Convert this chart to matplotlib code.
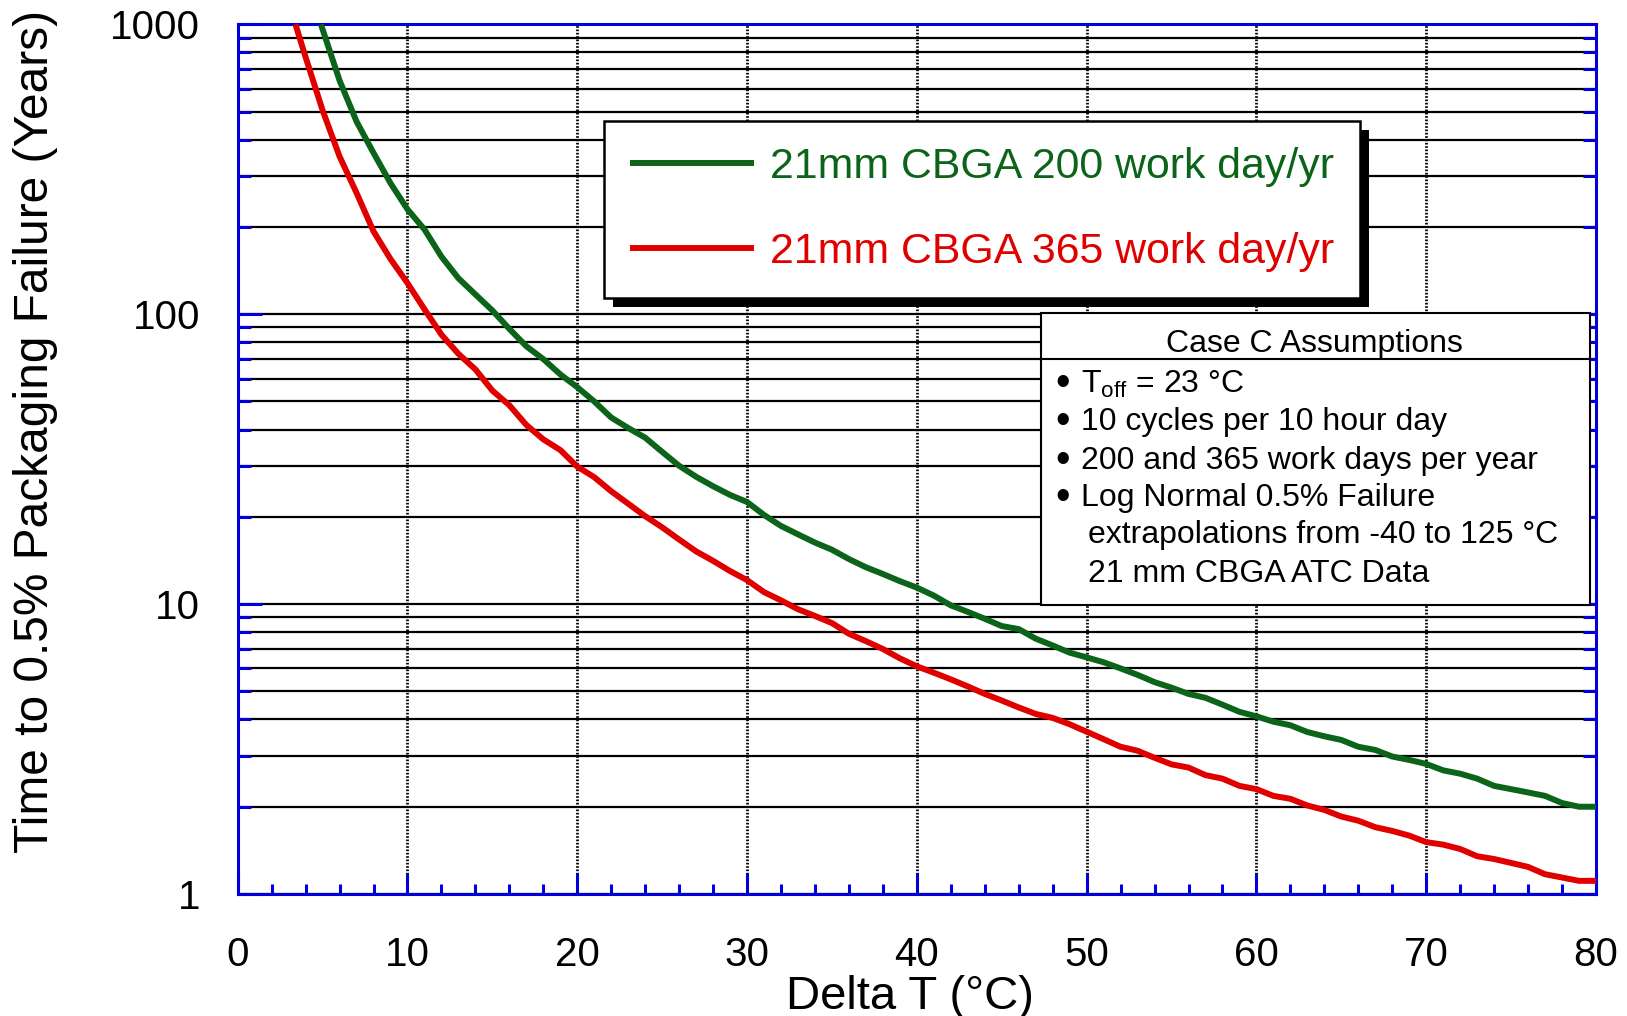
import matplotlib
matplotlib.use('Agg')
import matplotlib.pyplot as plt
from matplotlib.patches import Rectangle
from matplotlib.lines import Line2D
from matplotlib.ticker import FixedLocator, FixedFormatter, NullFormatter, LogLocator

plt.rcParams['font.family'] = ['Liberation Sans', 'DejaVu Sans']
plt.rcParams['mathtext.fontset'] = 'custom'
plt.rcParams['mathtext.rm'] = 'Liberation Sans'
plt.rcParams['mathtext.it'] = 'Liberation Sans:italic'

# ---------------- data ----------------
delta_t_200 = [4.9, 6, 7, 8, 9, 10, 11, 12, 13, 14, 15, 16, 17, 18, 19, 20,
               21, 22, 23, 24, 25, 26, 27, 28, 29, 30, 31, 32, 33, 34, 35,
               36, 37, 38, 39, 40, 41, 42, 43, 44, 45, 46, 47, 48, 49, 50,
               51, 52, 53, 54, 55, 56, 57, 58, 59, 60, 61, 62, 63, 64, 65,
               66, 67, 68, 69, 70, 71, 72, 73, 74, 75, 76, 77, 78, 79, 80]
years_200 = [1000, 640, 462, 360, 283, 230, 196, 158, 133, 117, 103, 89, 77.5, 70, 62, 56,
             50, 44, 40.5, 37.5, 33.5, 30, 27.5, 25.5, 23.8, 22.5, 20.3, 18.6, 17.4, 16.3, 15.4,
             14.3, 13.4, 12.7, 12.0, 11.4, 10.7, 9.9, 9.4, 8.9, 8.4, 8.2, 7.6, 7.2, 6.8, 6.55,
             6.3, 6.0, 5.7, 5.38, 5.15, 4.9, 4.75, 4.5, 4.25, 4.1, 3.93, 3.82, 3.62, 3.5, 3.4,
             3.22, 3.14, 2.98, 2.9, 2.81, 2.67, 2.6, 2.5, 2.36, 2.3, 2.24, 2.18, 2.06, 2.0, 2.0]

delta_t_365 = [3.4, 4, 5, 6, 7, 8, 9, 10, 11, 12, 13, 14, 15, 16, 17, 18, 19, 20,
               21, 22, 23, 24, 25, 26, 27, 28, 29, 30, 31, 32, 33, 34, 35,
               36, 37, 38, 39, 40, 41, 42, 43, 44, 45, 46, 47, 48, 49, 50,
               51, 52, 53, 54, 55, 56, 57, 58, 59, 60, 61, 62, 63, 64, 65,
               66, 67, 68, 69, 70, 71, 72, 73, 74, 75, 76, 77, 78, 79, 80]
years_365 = [1000, 770, 505, 350, 262, 193, 155, 128, 104, 85, 73, 64.5, 54.5, 48.5, 41.5, 37, 34, 29.8,
             27.4, 24.5, 22.2, 20.1, 18.4, 16.7, 15.2, 14.1, 13.0, 12.1, 11.0, 10.3, 9.6, 9.1, 8.6,
             7.9, 7.45, 7.0, 6.5, 6.1, 5.8, 5.5, 5.2, 4.9, 4.65, 4.4, 4.18, 4.05, 3.85, 3.63,
             3.42, 3.22, 3.12, 2.95, 2.8, 2.73, 2.57, 2.5, 2.36, 2.3, 2.18, 2.13, 2.02, 1.95, 1.85,
             1.79, 1.70, 1.65, 1.59, 1.51, 1.48, 1.43, 1.35, 1.32, 1.28, 1.24, 1.17, 1.14, 1.11, 1.11]

series_labels = ['21mm CBGA 200 work day/yr', '21mm CBGA 365 work day/yr']
x_ticks = [0, 10, 20, 30, 40, 50, 60, 70, 80]
x_minor_ticks = [2, 4, 6, 8, 12, 14, 16, 18, 22, 24, 26, 28, 32, 34, 36, 38,
                 42, 44, 46, 48, 52, 54, 56, 58, 62, 64, 66, 68, 72, 74, 76, 78]
y_ticks = [1, 10, 100, 1000]
y_tick_labels = ['1', '10', '100', '1000']
x_label = 'Delta T (\u00b0C)'
y_label = 'Time to 0.5% Packaging Failure (Years)'
box_title = 'Case C Assumptions'
box_bullets = ['$\\mathrm{T_{off}}$ = 23 \u00b0C',
               '10 cycles per 10 hour day',
               '200 and 365 work days per year',
               'Log Normal 0.5% Failure']
box_continuation = ['extrapolations from -40 to 125 \u00b0C',
                    '21 mm CBGA ATC Data']

GREEN = '#0b6419'
RED = '#e00000'
BLUE = '#0000d8'

# ---------------- figure ----------------
W, H = 1627, 1016
fig = plt.figure(figsize=(W / 100, H / 100), dpi=100)


def fx(x):
    return x / W


def fy(y):
    return 1 - y / H


AX_L, AX_R, AX_T, AX_B = 237.7, 1596.0, 24.3, 894.0
ax = fig.add_axes([fx(AX_L), fy(AX_B), (AX_R - AX_L) / W, (AX_B - AX_T) / H])

ax.set_yscale('log')
ax.set_xlim(0, 80)
ax.set_ylim(1, 1000)

ax.plot(delta_t_200, years_200, color=GREEN, lw=4.3, solid_joinstyle='round',
        solid_capstyle='butt', zorder=3, label=series_labels[0])
ax.plot(delta_t_365, years_365, color=RED, lw=4.3, solid_joinstyle='round',
        solid_capstyle='butt', zorder=3, label=series_labels[1])

# ticks
ax.xaxis.set_major_locator(FixedLocator(x_ticks))
ax.xaxis.set_minor_locator(FixedLocator(x_minor_ticks))
ax.yaxis.set_major_locator(FixedLocator(y_ticks))
ax.yaxis.set_major_formatter(FixedFormatter(y_tick_labels))
ax.yaxis.set_minor_locator(LogLocator(base=10, subs=[2, 3, 4, 5, 6, 7, 8, 9]))
ax.yaxis.set_minor_formatter(NullFormatter())

ax.tick_params(axis='x', which='major', direction='in', length=15, width=2.2,
               color=BLUE, labelsize=29, pad=30, top=False, bottom=True)
ax.tick_params(axis='x', which='minor', direction='in', length=7, width=2.2,
               color=BLUE, top=False, bottom=True)
ax.tick_params(axis='y', which='major', direction='in', length=17, width=2.2,
               color=BLUE, labelsize=29, pad=27, left=True, right=True)
ax.tick_params(axis='y', which='minor', direction='in', length=9.5, width=2.2,
               color=BLUE, left=True, right=True)

for sp in ax.spines.values():
    sp.set_color(BLUE)
    sp.set_linewidth(2.2)

# grid
ax.yaxis.grid(True, which='both', color='black', lw=1.6, ls='-', zorder=1)
ax.xaxis.grid(True, which='major', color='black', lw=2.0, ls=(0, (0.6, 0.6)), zorder=1)
ax.set_axisbelow(True)

# labels
ax.set_xlabel(x_label, fontsize=34)
ax.xaxis.set_label_coords((910 - AX_L) / (AX_R - AX_L), -(997 - AX_B) / (AX_B - AX_T))
ax.xaxis.label.set_va('center')
ax.set_ylabel(y_label, fontsize=34.5)
ax.yaxis.set_label_coords((36 - AX_L) / (AX_R - AX_L), (AX_B - 431) / (AX_B - AX_T))
ax.yaxis.label.set_va('center')

# legend
leg = ax.legend(loc='upper left', bbox_to_anchor=(fx(604), fy(121)),
                bbox_transform=fig.transFigure, fontsize=30.9, frameon=True,
                fancybox=False, edgecolor='black', framealpha=1, borderpad=0.6,
                labelspacing=1.05, handlelength=2.9, handletextpad=0.36,
                borderaxespad=0)
leg.get_frame().set_linewidth(1.8)
leg.set_zorder(6)
for txt, c in zip(leg.get_texts(), [GREEN, RED]):
    txt.set_color(c)

fig.canvas.draw()
bb = leg.get_window_extent(fig.canvas.get_renderer())
inv = fig.transFigure.inverted()
(x0, y0) = inv.transform((bb.x0 + 9, bb.y0 - 9))
(x1, y1) = inv.transform((bb.x1 + 9, bb.y1 - 9))
shadow = Rectangle((x0, y0), x1 - x0, y1 - y0, transform=fig.transFigure,
                   facecolor='black', edgecolor='none', zorder=5.5, clip_on=False)
ax.add_patch(shadow)

# assumptions box
BX0, BY0, BX1, BY1 = 1040.7, 313.4, 1589.6, 605.0
box = Rectangle((fx(BX0), fy(BY1)), (BX1 - BX0) / W, (BY1 - BY0) / H,
                transform=fig.transFigure, facecolor='white', edgecolor='black',
                lw=1.5, zorder=5)
fig.add_artist(box)
fig.add_artist(Line2D([fx(BX0), fx(BX1)], [fy(359), fy(359)], transform=fig.transFigure,
                      color='black', lw=1.5, zorder=6))
fig.text(fx(1314.6), fy(344), box_title, fontsize=23, ha='center', va='center', zorder=7)

bullet_y = [384, 422, 460.6, 498]
for yy, t in zip(bullet_y, box_bullets):
    fig.text(fx(1063), fy(yy), '\u2022', fontsize=30, ha='center', va='center', zorder=7)
    fig.text(fx(1081), fy(yy), t, fontsize=23, ha='left', va='center', zorder=7)
cont_y = [535, 574]
for yy, t in zip(cont_y, box_continuation):
    fig.text(fx(1088.5), fy(yy), t, fontsize=23, ha='left', va='center', zorder=7)

fig.savefig('out.png', dpi=100)
